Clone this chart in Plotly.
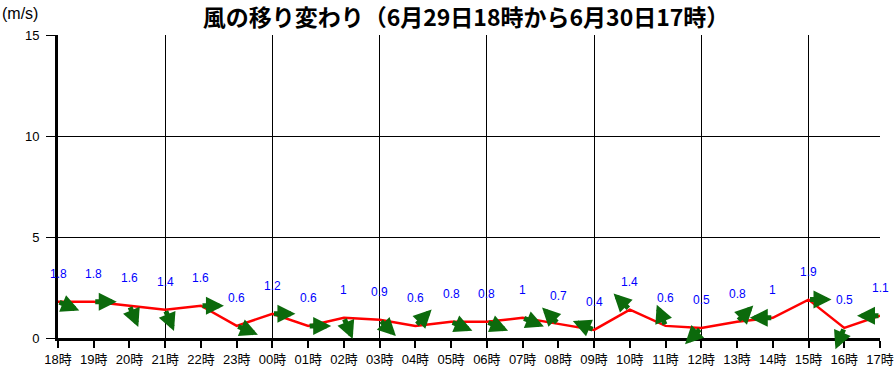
import math
import plotly.graph_objects as go

hours = ["18時", "19時", "20時", "21時", "22時", "23時", "00時", "01時", "02時", "03時", "04時", "05時",
         "06時", "07時", "08時", "09時", "10時", "11時", "12時", "13時", "14時", "15時", "16時", "17時"]
speed = [1.8, 1.8, 1.6, 1.4, 1.6, 0.6, 1.2, 0.6, 1, 0.9, 0.6, 0.8,
         0.8, 1, 0.7, 0.4, 1.4, 0.6, 0.5, 0.8, 1, 1.9, 0.5, 1.1]
# wind direction (where the wind blows from), 16-point compass
wind_from = ["西北西", "西", "北北西", "北北西", "西", "西北西", "西", "西", "北北西", "北西", "南西", "西北西",
             "西北西", "西北西", "南東", "東南東", "南東", "南南東", "北東", "南西", "東", "西", "北北東", "東"]
y_ticks = [0, 5, 10, 15]

compass = ["北", "北北東", "北東", "東北東", "東", "東南東", "南東", "南南東",
           "南", "南南西", "南西", "西南西", "西", "西北西", "北西", "北北西"]

x = list(range(len(hours)))

ML, MR, MT, MB = 58, 15, 35, 28
W, H = 895, 366
PW, PH = W - ML - MR, H - MT - MB
Y_MAX = 15
px_per_x = PW / (len(hours) - 1)
px_per_y = PH / Y_MAX

fig = go.Figure()
fig.add_trace(go.Scatter(x=x, y=speed, mode="lines",
                         line=dict(color="#ff0000", width=2.5), hoverinfo="skip", showlegend=False))

ARROW_LEN = 23
annotations = []
for i, (v, d) in enumerate(zip(speed, wind_from)):
    bearing_to = (compass.index(d) * 22.5 + 180) % 360
    rad = math.radians(bearing_to)
    dx_px = ARROW_LEN * math.sin(rad)
    dy_px = ARROW_LEN * math.cos(rad)  # upward positive
    annotations.append(dict(x=i + dx_px / px_per_x, y=v + dy_px / px_per_y, xref="x", yref="y",
                            ax=i, ay=v, axref="x", ayref="y", text="", showarrow=True,
                            arrowhead=2, arrowsize=0.72, arrowwidth=5, arrowcolor="#0c6a0c",
                            standoff=0, startstandoff=0))
for i, v in enumerate(speed):
    annotations.append(dict(x=i, y=v, xref="x", yref="y", text=f"{v:g}", showarrow=False,
                            yshift=28, font=dict(family="Liberation Sans, Arial", size=12, color="#0000ff")))

annotations.append(dict(x=-ML / PW, y=1 + 21 / PH, xref="paper", yref="paper", xanchor="left",
                        yanchor="middle", text="(m/s)", showarrow=False,
                        font=dict(family="Liberation Sans, Arial", size=16, color="black")))

fig.update_layout(
    width=W, height=H,
    margin=dict(l=ML, r=MR, t=MT, b=MB, autoexpand=False),
    paper_bgcolor="white", plot_bgcolor="white",
    title=dict(text="<b>風の移り変わり（6月29日18時から6月30日17時）</b>",
               x=466 / W, xanchor="center", y=1 - 18 / H, yanchor="middle",
               font=dict(family="Noto Sans CJK JP", size=23, color="black")),
    annotations=annotations,
    showlegend=False,
)
fig.update_xaxes(range=[0, len(hours) - 1], tickmode="array", tickvals=x, ticktext=hours,
                 automargin=False,
                 showgrid=False, zeroline=False, showline=True, linecolor="black", linewidth=3,
                 ticks="outside", ticklen=7, tickwidth=2, tickcolor="black",
                 tickfont=dict(family="Liberation Sans, Noto Sans CJK JP", size=13, color="black"),
                 minor=dict(tickmode="array", tickvals=x[::3], showgrid=True, gridcolor="black",
                            gridwidth=1, ticks=""))
fig.update_yaxes(range=[0, Y_MAX], tickmode="array", tickvals=y_ticks, automargin=False,
                 showgrid=True, gridcolor="black", gridwidth=1, zeroline=False,
                 showline=True, linecolor="black", linewidth=3,
                 ticks="outside", ticklen=9, tickwidth=1, tickcolor="black",
                 ticklabelstandoff=4,
                 tickfont=dict(family="Liberation Sans, Arial", size=13, color="black"))

fig.write_html("out.html", config={"displayModeBar": False},
               post_script="document.body.style.margin='0';document.body.style.overflow='hidden';")
